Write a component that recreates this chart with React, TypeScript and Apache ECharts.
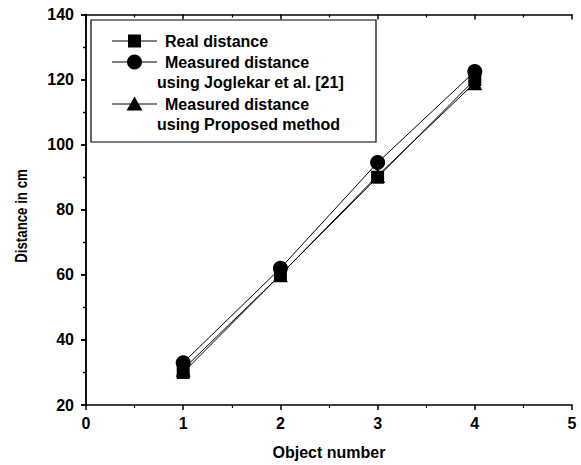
import React, { useEffect, useRef } from "react";
import * as echarts from "echarts";

const objectNumbers = [1, 2, 3, 4];
const realDistance = [30, 60, 90, 120];
const joglekarDistance = [33, 62, 94.5, 122.5];
const proposedDistance = [31, 60, 90.5, 119];
const legendNames = [
  ["Real distance"],
  ["Measured distance", "using Joglekar et al. [21]"],
  ["Measured distance", "using Proposed method"],
];
const yAxisTitle = "Distance in cm";
const xAxisTitle = "Object number";

const FONT = "'Liberation Sans', Arial, Helvetica, sans-serif";

export default function App() {
  const ref = useRef<HTMLDivElement>(null);
  useEffect(() => {
    if (!ref.current) return;
    const chart = echarts.init(ref.current, undefined, { renderer: "svg" });
    const axisLine = { show: true, lineStyle: { color: "#000", width: 1.5 } };
    const labelStyle = { color: "#000", fontFamily: FONT, fontWeight: "bold" as const, fontSize: 16 };
    const mk = (xs: number[], ys: number[]) => xs.map((x, i) => [x, ys[i]]);
    const lineX1 = 112, lineX2 = 157, midX = 134.5, textX = 165, contX = 157;
    const rows = [41, 62, 104];
    const graphics: any[] = [
      {
        type: "rect",
        shape: { x: 91, y: 20, width: 285, height: 122 },
        style: { fill: "#fff", stroke: "#000", lineWidth: 1.2 },
        z: 10,
      },
      {
        type: "text",
        x: 22,
        y: 216,
        rotation: Math.PI / 2,
        scaleX: 0.83,
        scaleY: 1,
        style: {
          text: yAxisTitle,
          fill: "#000",
          font: `bold 16px ${FONT}`,
          align: "center",
          verticalAlign: "middle",
        },
        z: 12,
      },
    ];
    rows.forEach((y, i) => {
      graphics.push({
        type: "line",
        shape: { x1: lineX1, y1: y, x2: lineX2, y2: y },
        style: { stroke: "#000", lineWidth: 1 },
        z: 11,
      });
      if (i === 0)
        graphics.push({ type: "rect", shape: { x: midX - 6.5, y: y - 6.5, width: 13, height: 13 }, style: { fill: "#000" }, z: 12 });
      if (i === 1)
        graphics.push({ type: "circle", shape: { cx: midX, cy: y, r: 7.5 }, style: { fill: "#000" }, z: 12 });
      if (i === 2)
        graphics.push({
          type: "polygon",
          shape: { points: [[midX, y - 7.5], [midX + 8, y + 6.5], [midX - 8, y + 6.5]] },
          style: { fill: "#000" },
          z: 12,
        });
      legendNames[i].forEach((t, j) => {
        graphics.push({
          type: "text",
          x: j === 0 ? textX : contX,
          y: y + j * 20,
          style: {
            text: t,
            fill: "#000",
            font: `bold 16px ${FONT}`,
            verticalAlign: "middle",
          },
          z: 12,
        });
      });
    });

    const tick = (inside: boolean) => ({ show: true, inside, length: 5, lineStyle: { color: "#000", width: 1.5 } });
    const minor = { show: true, splitNumber: 2, length: 3, lineStyle: { color: "#000", width: 1.2 } };

    chart.setOption({
      animation: false,
      backgroundColor: "#fff",
      grid: { left: 86, right: 9, top: 14.5, bottom: 60 },
      xAxis: [
        {
          type: "value",
          min: 0,
          max: 5,
          interval: 1,
          name: xAxisTitle,
          nameLocation: "middle",
          nameGap: 39,
          nameTextStyle: { ...labelStyle, fontSize: 16 },
          axisLine,
          axisTick: tick(false),
          minorTick: minor,
          axisLabel: { ...labelStyle, margin: 10 },
          splitLine: { show: false },
        },
        {
          type: "value",
          position: "top",
          min: 0,
          max: 5,
          interval: 1,
          axisLine,
          axisTick: tick(true),
          minorTick: minor,
          axisLabel: { show: false },
          splitLine: { show: false },
        },
      ],
      yAxis: [
        {
          type: "value",
          min: 20,
          max: 140,
          interval: 20,
          axisLine,
          axisTick: tick(false),
          minorTick: minor,
          axisLabel: { ...labelStyle, margin: 12 },
          splitLine: { show: false },
        },
        {
          type: "value",
          position: "right",
          min: 20,
          max: 140,
          interval: 20,
          axisLine,
          axisTick: tick(true),
          minorTick: minor,
          axisLabel: { show: false },
          splitLine: { show: false },
        },
      ],
      series: [
        {
          name: "Real distance",
          type: "line",
          data: mk(objectNumbers, realDistance),
          symbol: "rect",
          symbolSize: 13,
          lineStyle: { color: "#000", width: 1 },
          itemStyle: { color: "#000" },
        },
        {
          name: "Measured distance using Joglekar et al. [21]",
          type: "line",
          data: mk(objectNumbers, joglekarDistance),
          symbol: "circle",
          symbolSize: 15,
          lineStyle: { color: "#000", width: 1 },
          itemStyle: { color: "#000" },
        },
        {
          name: "Measured distance using Proposed method",
          type: "line",
          data: mk(objectNumbers, proposedDistance),
          symbol: "triangle",
          symbolSize: 15,
          lineStyle: { color: "#000", width: 1 },
          itemStyle: { color: "#000" },
        },
      ],
      graphic: graphics,
    });
    return () => chart.dispose();
  }, []);
  return <div ref={ref} style={{ width: 581, height: 465, position: "absolute", left: 0, top: 0 }} />;
}
